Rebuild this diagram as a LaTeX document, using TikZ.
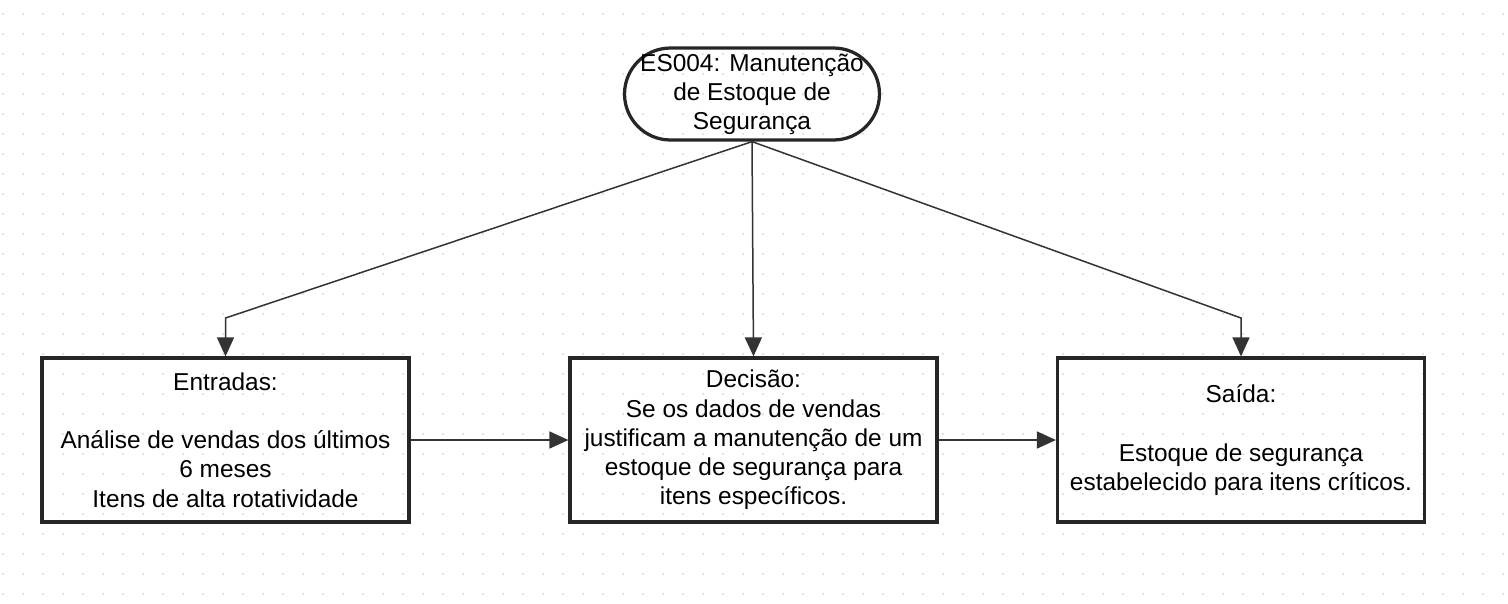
\documentclass[tikz,border=0pt]{standalone}
\usepackage{fontspec}
\setmainfont{Liberation Sans}
\usetikzlibrary{arrows.meta}
\definecolor{linegray}{HTML}{333333}
\definecolor{dotgray}{HTML}{DADADA}
\begin{document}
\begin{tikzpicture}[x=0.02cm,y=-0.02cm,>={Triangle[length=0.38cm,width=0.34cm]}]
                  \tikzset{
                      box/.style={draw=black!85,line width=0.065cm,minimum width=7.34cm,minimum height=3.28cm,align=center,inner sep=0pt,font=\fontsize{13.9pt}{16.6pt}\selectfont},
                      term/.style={box,rounded corners=0.92cm,minimum width=5.1cm,minimum height=1.84cm},
                      link/.style={->,draw=linegray,line width=0.03cm}
                  }
                  \useasboundingbox (0,0) rectangle (1508,603);
                  % dotted grid
                  \foreach \i in {0,...,75}
                      \foreach \j in {0,...,29}
                          \fill[dotgray] (3+20*\i,14+20*\j) circle (0.022cm);
                  \node[term] (top) at (752,94) {ES004: Manutenção\\de Estoque de\\Segurança};
                  \node[box] (in) at (225.5,440) {Entradas:\\ \mbox{}\\Análise de vendas dos últimos\\6 meses\\Itens de alta rotatividade};
                  \node[box] (dec) at (753.5,440) {Decisão:\\Se os dados de vendas\\justificam a manutenção de um\\estoque de segurança para\\itens específicos.};
                  \node[box] (out) at (1241,440) {Saída:\\ \mbox{}\\Estoque de segurança\\estabelecido para itens críticos.};
                  \coordinate (bendL) at (225.5,318);
                  \coordinate (bendR) at (1241,318);
                  \draw[link] (top.south) -- (bendL) -- (in.north);
                  \draw[link] (top.south) -- (dec.north);
                  \draw[link] (top.south) -- (bendR) -- (out.north);
                  \draw[link] (in) -- (dec);
                  \draw[link] (dec) -- (out);
              \end{tikzpicture}
\end{document}
